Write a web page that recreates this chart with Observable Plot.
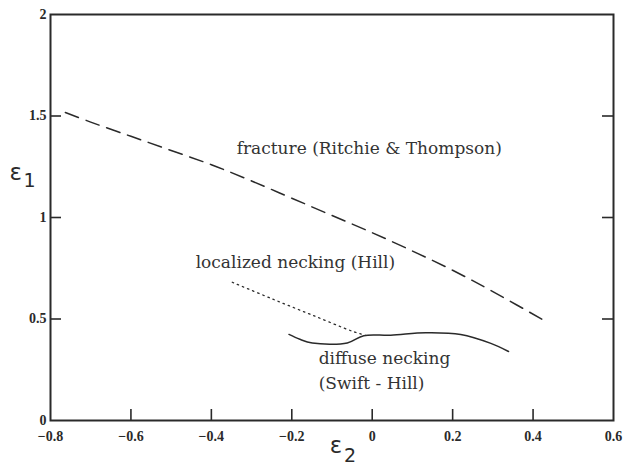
<!DOCTYPE html>
<html>
<head>
<meta charset="utf-8">
<script src="https://cdn.jsdelivr.net/npm/d3@7"></script>
<script src="https://cdn.jsdelivr.net/npm/@observablehq/plot@0.6"></script>
<style>
  html, body { margin: 0; padding: 0; background: #fff; }
  #chart { width: 629px; height: 472px; }
</style>
</head>
<body>
<div id="chart"></div>
<script>
// Tick values and labels
const xTicks = [-0.8, -0.6, -0.4, -0.2, 0, 0.2, 0.4, 0.6];
const xTickLabels = ["\u22120.8", "\u22120.6", "\u22120.4", "\u22120.2", "0", "0.2", "0.4", "0.6"];
const yTicks = [0, 0.5, 1, 1.5, 2];
const yTickLabels = ["0", "0.5", "1", "1.5", "2"];

// Fracture (Ritchie & Thompson) — dashed
const fractureX = [-0.763, -0.7, -0.6, -0.5, -0.4, -0.3, -0.2, -0.1, 0.0, 0.1, 0.2, 0.3, 0.436];
const fractureY = [1.517, 1.47, 1.40, 1.33, 1.26, 1.18, 1.095, 1.01, 0.925, 0.835, 0.74, 0.635, 0.483];

// Localized necking (Hill) — dotted
const localX = [-0.348, -0.25, -0.15, -0.05, -0.016];
const localY = [0.681, 0.60, 0.52, 0.44, 0.419];

// Diffuse necking (Swift - Hill) — solid
const diffuseX = [-0.207, -0.18, -0.149, -0.062, -0.021, 0.046, 0.133, 0.22, 0.295, 0.339];
const diffuseY = [0.424, 0.40, 0.382, 0.382, 0.418, 0.42, 0.432, 0.424, 0.38, 0.34];

// Annotations
const noteText = ["fracture (Ritchie & Thompson)", "localized necking (Hill)", "diffuse necking", "(Swift - Hill)"];
const noteX = [-0.337, -0.439, -0.133, -0.133];
const noteY = [1.34, 0.778, 0.305, 0.182];

const W = 629, H = 472;
const mL = 50, mR = 16, mT = 14, mB = 52;
const innerW = W - mL - mR, innerH = H - mT - mB;
const tickLen = 11;

const toPts = (xs, ys) => xs.map((x, i) => ({x, y: ys[i]}));
const fracture = toPts(fractureX, fractureY);
const localized = toPts(localX, localY);
const diffuse = toPts(diffuseX, diffuseY);
const notes = noteText.map((t, i) => ({t, x: noteX[i], y: noteY[i]}));

const ink = "#2a2a2a";
const serif = "DejaVu Serif";
const tickFont = "Liberation Serif";

const chart = Plot.plot({
  width: W, height: H,
  marginLeft: mL, marginRight: mR, marginTop: mT, marginBottom: mB,
  style: {background: "#fff"},
  x: {domain: [-0.8, 0.6], axis: null},
  y: {domain: [0, 2], axis: null},
  marks: [
    // inward ticks
    Plot.tickX(xTicks.slice(1, -1), {x: d => d, stroke: ink, strokeWidth: 1.6, insetTop: innerH - tickLen}),
    Plot.tickY(yTicks.slice(1, -1), {y: d => d, stroke: ink, strokeWidth: 1.6, insetRight: innerW - tickLen}),
    Plot.tickY(yTicks.slice(1, -1), {y: d => d, stroke: ink, strokeWidth: 1.6, insetLeft: innerW - tickLen}),
    Plot.frame({stroke: ink, strokeWidth: 2}),
    // tick labels
    Plot.text(xTicks, {x: d => d, text: (d, i) => xTickLabels[i], frameAnchor: "bottom", dy: 20,
      fontSize: 14, fontWeight: "bold", fontFamily: tickFont, fill: ink}),
    Plot.text(yTicks, {y: d => d, text: (d, i) => yTickLabels[i], frameAnchor: "left", textAnchor: "end", dx: -4,
      fontSize: 14, fontWeight: "bold", fontFamily: tickFont, fill: ink}),
    // curves
    Plot.line(fracture, {x: "x", y: "y", stroke: ink, strokeWidth: 1.5, strokeDasharray: "14,8", curve: "catmull-rom"}),
    Plot.line(localized, {x: "x", y: "y", stroke: ink, strokeWidth: 1.3, strokeDasharray: "1.5,4", curve: "catmull-rom"}),
    Plot.line(diffuse, {x: "x", y: "y", stroke: ink, strokeWidth: 1.5, curve: "catmull-rom"}),
    // annotations
    Plot.text(notes, {x: "x", y: "y", text: "t", textAnchor: "start", fontSize: 17, fontFamily: serif, fill: "#333"}),
    // axis titles epsilon
    Plot.text(["\u03b5"], {y: 1.22, frameAnchor: "left", dx: -41, fontSize: 23, fontFamily: "DejaVu Sans", fill: ink}),
    Plot.text(["1"], {y: 1.22, frameAnchor: "left", dx: -27, dy: 8, fontSize: 19, fontFamily: "DejaVu Sans", fill: ink}),
    Plot.text(["\u03b5"], {x: -0.09, frameAnchor: "bottom", dy: 32, fontSize: 23, fontFamily: "DejaVu Sans", fill: ink}),
    Plot.text(["2"], {x: -0.09, frameAnchor: "bottom", dx: 14, dy: 41, fontSize: 19, fontFamily: "DejaVu Sans", fill: ink})
  ]
});
document.getElementById("chart").appendChild(chart);
</script>
</body>
</html>
